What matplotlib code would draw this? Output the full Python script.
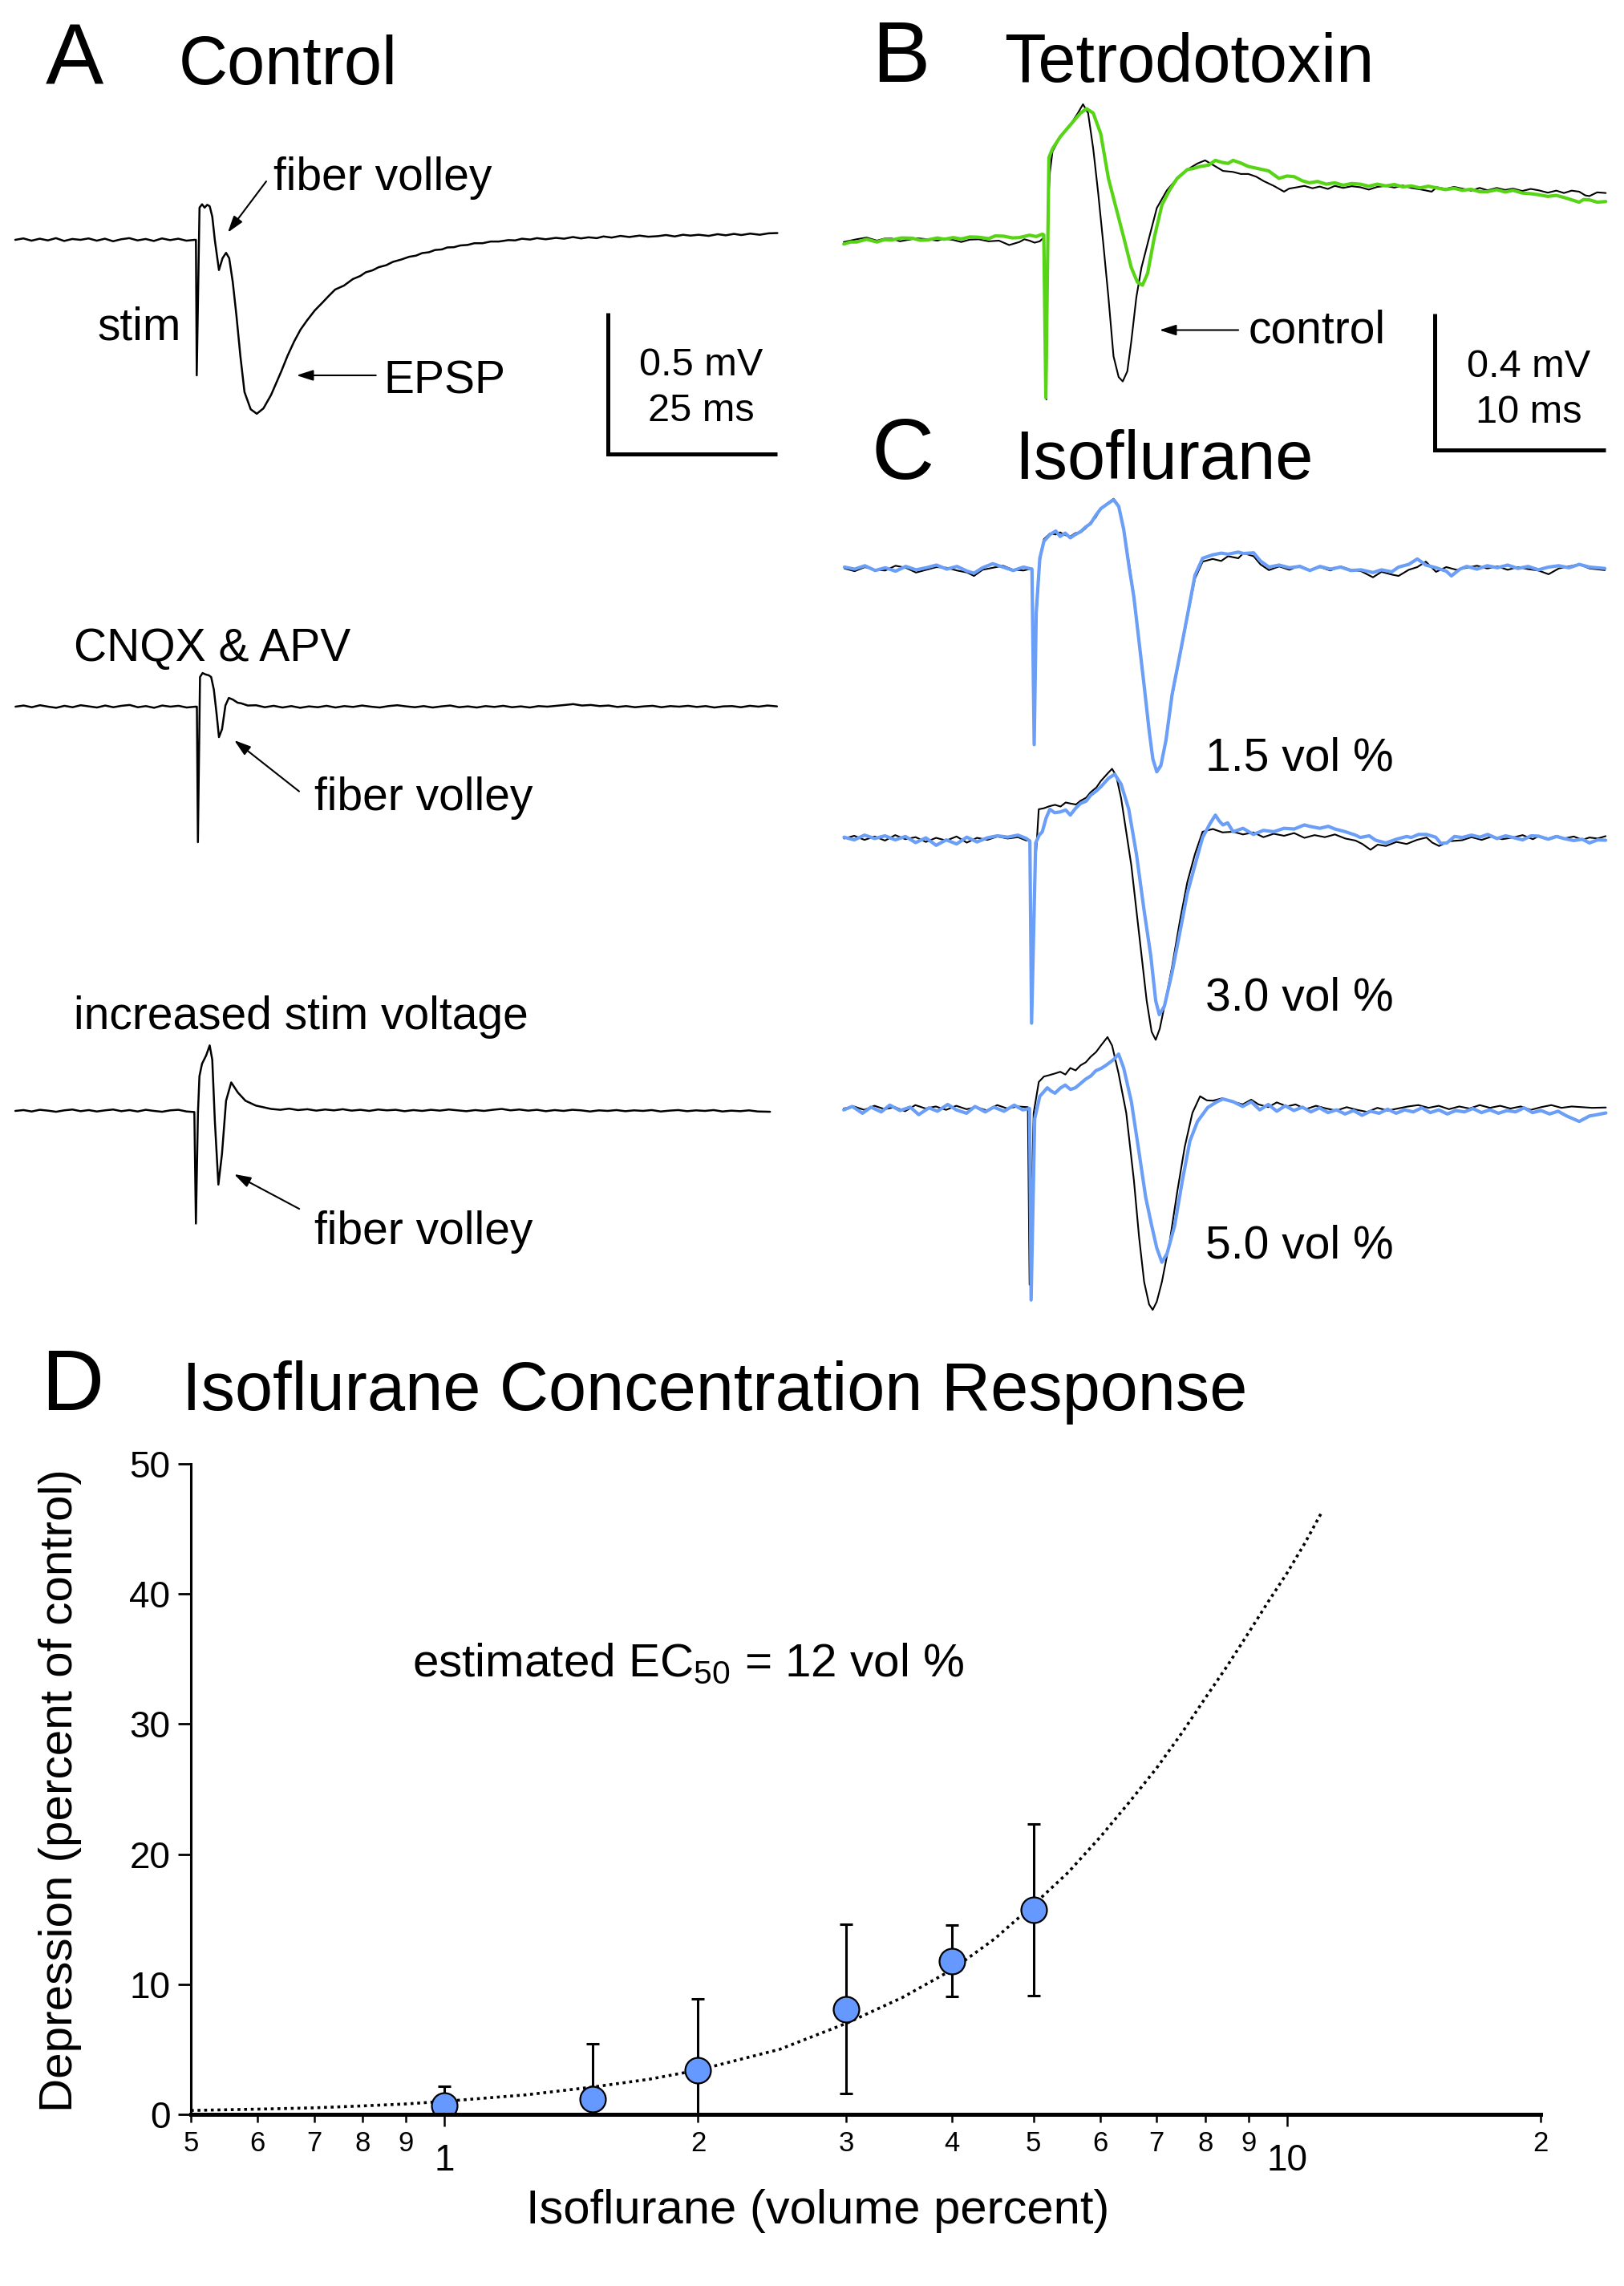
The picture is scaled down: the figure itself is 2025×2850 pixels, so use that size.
import numpy as np
import matplotlib
matplotlib.use('Agg')
import matplotlib.pyplot as plt

plt.rcParams['font.family'] = ['Liberation Sans', 'DejaVu Sans']
plt.rcParams['mathtext.fontset'] = 'custom'
plt.rcParams['mathtext.rm'] = 'Liberation Sans'
plt.rcParams['mathtext.it'] = 'Liberation Sans:italic'
plt.rcParams['mathtext.bf'] = 'Liberation Sans:bold'

W, H = 2025, 2850
GREEN = '#56d415'
BLUE = '#6a9ef7'
DOT_BLUE = '#6699ff'

# ── traces, (time ms from stim, mV) ──
CONTROL_A = [
    (-26.6, 0.000), (-25.4, 0.005), (-24.2, -0.003), (-23.0, 0.004), (-21.8, -0.002), (-20.6, 0.006),
    (-19.4, -0.004), (-18.2, 0.003), (-17.0, 0.000), (-15.8, 0.005), (-14.6, -0.003), (-13.4, 0.004),
    (-12.2, -0.005), (-11.0, 0.002), (-9.8, 0.006), (-8.6, -0.002), (-7.4, 0.003), (-6.2, -0.004),
    (-5.0, 0.005), (-3.8, -0.001), (-2.6, 0.004), (-1.4, -0.003), (-0.2, 0.000), (0.0, 0.000),
    (0.12, -0.480), (0.53, 0.114), (0.90, 0.126), (1.28, 0.114), (1.66, 0.124), (2.03, 0.119),
    (2.41, 0.082), (2.79, -0.002), (3.39, -0.107), (3.92, -0.065), (4.44, -0.046), (4.90, -0.065),
    (5.42, -0.149), (5.95, -0.265), (6.55, -0.413), (7.15, -0.539), (8.06, -0.600), (8.96, -0.616),
    (9.94, -0.597), (11.07, -0.549), (12.58, -0.465), (13.5, -0.410), (14.46, -0.360), (15.4, -0.318),
    (16.34, -0.286), (17.5, -0.250), (18.6, -0.223), (19.5, -0.200), (20.5, -0.176), (21.8, -0.162),
    (23.1, -0.139), (24.2, -0.128), (25.0, -0.115), (26.0, -0.108), (26.9, -0.097), (28.0, -0.090),
    (29.0, -0.078), (30.2, -0.070), (31.4, -0.060), (32.4, -0.056), (33.3, -0.047), (34.3, -0.044),
    (35.2, -0.036), (36.2, -0.034), (37.0, -0.027), (38.0, -0.026), (38.9, -0.020), (40.0, -0.018),
    (41.0, -0.012), (42.2, -0.012), (43.4, -0.006), (44.6, -0.006), (46.0, -0.001), (47.0, -0.002),
    (48.0, 0.004), (49.2, 0.001), (50.2, 0.006), (51.5, 0.002), (53.0, 0.007), (54.2, 0.004),
    (55.5, 0.010), (56.7, 0.005), (57.8, 0.009), (59.0, 0.006), (60.0, 0.012), (61.2, 0.008),
    (62.5, 0.014), (63.8, 0.010), (65.3, 0.015), (66.6, 0.011), (68.0, 0.013), (69.2, 0.017),
    (70.5, 0.012), (71.7, 0.018), (72.8, 0.015), (74.0, 0.018), (75.5, 0.014), (76.8, 0.020),
    (78.0, 0.016), (79.2, 0.021), (80.3, 0.017), (81.6, 0.022), (83.0, 0.018), (84.3, 0.023),
    (85.6, 0.024),
]

CNQX_APV = [
    (-26.7, 0.000), (-25.5, 0.004), (-24.3, -0.002), (-23.1, 0.005), (-21.9, 0.000), (-20.7, -0.004),
    (-19.5, 0.003), (-18.3, -0.002), (-17.1, 0.005), (-15.9, 0.001), (-14.7, -0.003), (-13.5, 0.004),
    (-12.3, -0.002), (-11.1, 0.003), (-9.9, 0.006), (-8.7, -0.002), (-7.5, 0.002), (-6.3, -0.004),
    (-5.1, 0.004), (-3.9, 0.000), (-2.7, 0.003), (-1.5, -0.003), (-0.2, 0.000), (0.0, 0.000),
    (0.15, -0.480), (0.46, 0.105), (0.84, 0.119), (1.29, 0.114), (1.75, 0.111), (2.10, 0.105),
    (2.50, 0.060), (2.90, -0.025), (3.25, -0.108), (3.70, -0.080), (4.20, 0.004), (4.70, 0.031),
    (5.30, 0.025), (6.0, 0.014), (6.5, 0.012), (7.5, 0.004), (8.7, 0.005), (10.0, -0.002),
    (11.3, 0.003), (12.6, -0.003), (13.9, 0.002), (15.2, -0.004), (16.5, 0.001), (17.8, -0.002),
    (19.1, 0.003), (20.4, -0.003), (21.7, 0.002), (23.0, -0.001), (24.3, 0.004), (25.6, 0.000),
    (26.9, -0.003), (28.2, 0.002), (29.5, 0.005), (30.8, 0.001), (32.1, -0.002), (33.4, 0.002),
    (34.7, -0.003), (36.0, 0.001), (37.3, 0.004), (38.6, -0.002), (39.9, 0.001), (41.2, -0.003),
    (42.5, 0.002), (43.8, -0.001), (45.1, 0.003), (46.4, -0.002), (47.7, 0.001), (49.0, -0.003),
    (50.3, 0.002), (51.6, 0.000), (52.9, 0.003), (54.2, 0.006), (55.4, 0.009), (56.7, 0.004),
    (58.0, 0.006), (59.3, 0.002), (60.6, 0.004), (61.9, -0.001), (63.2, 0.002), (64.5, -0.002),
    (65.8, 0.001), (67.1, 0.003), (68.4, -0.002), (69.7, 0.002), (71.0, 0.000), (72.3, 0.003),
    (73.6, -0.001), (74.9, 0.002), (76.2, -0.003), (77.5, 0.001), (78.8, 0.002), (80.1, -0.002),
    (81.4, 0.003), (82.7, 0.000), (84.0, 0.004), (85.4, 0.001),
]

HIGH_STIM = [
    (-26.5, 0.000), (-25.3, 0.003), (-24.1, -0.002), (-22.9, 0.004), (-21.7, 0.001), (-20.5, -0.003),
    (-19.3, 0.002), (-18.1, 0.005), (-16.9, -0.001), (-15.7, 0.003), (-14.5, -0.002), (-13.3, 0.002),
    (-12.1, 0.005), (-10.9, -0.001), (-9.7, 0.003), (-8.5, -0.002), (-7.3, 0.004), (-6.1, 0.000),
    (-4.9, -0.003), (-3.7, 0.002), (-2.5, 0.004), (-1.3, -0.002), (-0.15, -0.004), (0.08, -0.399),
    (0.38, -0.007), (0.60, 0.123), (0.98, 0.167), (1.58, 0.196), (2.11, 0.232), (2.49, 0.181),
    (2.87, -0.036), (3.39, -0.261), (3.92, -0.152), (4.52, 0.036), (5.28, 0.101), (6.26, 0.065),
    (7.38, 0.036), (8.89, 0.019), (11.15, 0.007), (12.5, 0.004), (13.8, 0.008), (15.1, 0.003),
    (16.5, 0.006), (17.8, 0.001), (19.1, 0.005), (20.4, 0.002), (21.7, 0.006), (23.0, 0.001),
    (24.3, 0.004), (25.6, 0.000), (26.9, 0.005), (28.2, 0.002), (29.5, 0.004), (30.8, -0.001),
    (32.1, 0.003), (33.4, 0.000), (34.7, 0.004), (36.0, 0.001), (37.3, 0.005), (38.6, 0.002),
    (39.9, -0.001), (41.2, 0.003), (42.5, 0.000), (43.8, 0.004), (45.1, 0.007), (46.4, 0.002),
    (47.7, 0.005), (49.0, 0.001), (50.3, 0.004), (51.6, -0.001), (52.9, 0.003), (54.2, 0.000),
    (55.5, 0.004), (56.8, 0.002), (58.1, -0.002), (59.4, 0.002), (60.7, 0.000), (62.0, 0.003),
    (63.3, -0.001), (64.6, 0.002), (65.9, 0.000), (67.2, 0.003), (68.5, -0.002), (69.8, 0.001),
    (71.1, 0.003), (72.4, -0.001), (73.7, 0.002), (75.0, 0.000), (76.3, 0.003), (77.6, -0.002),
    (78.9, 0.001), (80.2, -0.001), (81.5, 0.002), (82.8, -0.002), (84.6, -0.003),
]

TTX_CONTROL = [
    (-11.79, -0.004), (-11.04, 0.004), (-10.45, 0.009), (-9.85, 0.000), (-9.4, 0.006), (-8.96, 0.006),
    (-8.5, -0.002), (-8.06, 0.002), (-7.5, 0.007), (-6.87, 0.004), (-6.3, 0.000), (-5.9, 0.006),
    (-5.37, 0.002), (-4.9, -0.004), (-4.4, 0.003), (-3.88, 0.004), (-3.3, -0.002), (-2.69, 0.000),
    (-2.09, -0.013), (-1.49, -0.004), (-1.2, 0.004), (-0.9, 0.000), (-0.6, -0.006), (-0.3, -0.002),
    (-0.06, 0.009), (0.09, -0.467), (0.18, 0.096), (0.30, 0.201), (0.45, 0.262), (0.90, 0.305),
    (1.49, 0.340), (1.94, 0.375), (2.24, 0.401), (2.54, 0.375), (2.84, 0.270), (3.13, 0.140),
    (3.43, -0.009), (3.73, -0.166), (4.03, -0.340), (4.33, -0.401), (4.57, -0.414), (4.84, -0.384),
    (5.07, -0.297), (5.37, -0.166), (5.67, -0.079), (6.12, 0.009), (6.57, 0.096), (7.16, 0.148),
    (7.76, 0.183), (8.36, 0.209), (8.96, 0.227), (9.40, 0.236), (9.85, 0.223), (10.45, 0.205),
    (11.04, 0.202), (11.5, 0.196), (11.94, 0.196), (12.4, 0.188), (12.84, 0.175), (13.43, 0.161),
    (14.03, 0.144), (14.33, 0.153), (14.8, 0.157), (15.22, 0.161), (15.7, 0.154), (16.12, 0.159),
    (16.6, 0.152), (17.01, 0.161), (17.5, 0.155), (18.0, 0.160), (18.51, 0.157), (19.0, 0.150),
    (19.5, 0.158), (20.0, 0.161), (20.5, 0.156), (21.0, 0.162), (21.49, 0.155), (22.1, 0.150),
    (22.69, 0.144), (22.99, 0.157), (23.5, 0.152), (24.0, 0.158), (24.48, 0.153), (25.0, 0.147),
    (25.5, 0.155), (25.97, 0.148), (26.5, 0.155), (27.0, 0.149), (27.46, 0.153), (28.0, 0.146),
    (28.5, 0.152), (28.96, 0.148), (29.5, 0.141), (30.0, 0.147), (30.45, 0.140), (30.9, 0.147),
    (31.34, 0.144), (31.7, 0.133), (31.94, 0.131), (32.4, 0.142), (32.9, 0.140),
]

TTX = [
    (-11.79, -0.010), (-11.4, -0.004), (-11.04, -0.004), (-10.45, 0.004), (-9.85, -0.004), (-9.4, 0.003),
    (-8.96, 0.002), (-8.4, 0.008), (-7.76, 0.007), (-7.3, 0.001), (-6.87, 0.002), (-6.3, 0.008),
    (-5.9, 0.004), (-5.37, 0.009), (-4.9, 0.005), (-4.4, 0.011), (-3.88, 0.010), (-3.3, 0.006),
    (-2.9, 0.014), (-2.39, 0.013), (-1.9, 0.008), (-1.49, 0.009), (-0.9, 0.016), (-0.5, 0.012),
    (-0.15, 0.019), (-0.06, 0.017), (0.06, -0.462), (0.24, 0.244), (0.45, 0.270), (0.90, 0.305),
    (1.49, 0.340), (2.09, 0.375), (2.45, 0.388), (2.84, 0.375), (3.28, 0.314), (3.73, 0.183),
    (4.18, 0.096), (4.63, 0.009), (5.07, -0.079), (5.43, -0.122), (5.73, -0.131), (6.03, -0.096),
    (6.42, 0.009), (6.87, 0.105), (7.31, 0.148), (7.76, 0.183), (8.36, 0.209), (8.7, 0.212),
    (9.10, 0.218), (9.6, 0.222), (10.0, 0.236), (10.4, 0.230), (10.75, 0.227), (11.04, 0.236),
    (11.5, 0.228), (11.94, 0.218), (12.5, 0.212), (13.13, 0.205), (13.73, 0.183), (14.2, 0.190),
    (14.63, 0.188), (15.1, 0.176), (15.52, 0.170), (16.0, 0.174), (16.5, 0.166), (17.01, 0.170),
    (17.5, 0.163), (18.0, 0.168), (18.51, 0.166), (19.0, 0.160), (19.5, 0.166), (20.0, 0.161),
    (20.5, 0.165), (21.0, 0.158), (21.49, 0.161), (22.0, 0.155), (22.5, 0.160), (22.99, 0.155),
    (23.5, 0.150), (24.0, 0.154), (24.48, 0.148), (25.0, 0.151), (25.5, 0.144), (25.97, 0.144),
    (26.5, 0.150), (27.0, 0.143), (27.46, 0.148), (28.0, 0.140), (28.5, 0.138), (28.96, 0.135),
    (29.5, 0.130), (30.0, 0.133), (30.45, 0.127), (30.9, 0.120), (31.34, 0.113), (31.6, 0.121),
    (31.94, 0.120), (32.4, 0.113), (32.9, 0.115),
]

ISO15_CONTROL = [
    (-11.1, 0.000), (-10.5, -0.008), (-9.9, 0.004), (-9.3, -0.004), (-8.7, -0.006), (-8.1, 0.008),
    (-7.5, 0.002), (-6.9, -0.012), (-6.3, -0.004), (-5.7, 0.004), (-5.1, 0.002), (-4.5, -0.006),
    (-3.9, -0.012), (-3.5, -0.022), (-3.0, -0.004), (-2.4, 0.002), (-1.8, 0.008), (-1.2, -0.004),
    (-0.6, -0.006), (-0.1, 0.000), (0.03, -0.518), (0.15, -0.146), (0.36, 0.020), (0.6, 0.086),
    (0.96, 0.103), (1.3, 0.100), (1.55, 0.106), (1.85, 0.098), (2.15, 0.094), (2.45, 0.104),
    (2.75, 0.106), (3.05, 0.118), (3.34, 0.136), (3.64, 0.150), (3.94, 0.177), (4.39, 0.194),
    (4.69, 0.205), (4.99, 0.185), (5.28, 0.119), (5.58, 0.020), (5.88, -0.079), (6.18, -0.212),
    (6.48, -0.344), (6.78, -0.477), (6.99, -0.559), (7.22, -0.596), (7.46, -0.576), (7.76, -0.510),
    (8.12, -0.377), (8.57, -0.261), (9.01, -0.146), (9.46, -0.030), (9.91, 0.020), (10.5, 0.028),
    (11.0, 0.022), (11.4, 0.036), (12.0, 0.030), (12.3, 0.045), (12.9, 0.036), (13.3, 0.012),
    (13.8, -0.005), (14.4, 0.006), (15.0, -0.004), (15.6, 0.008), (16.2, -0.005), (16.8, 0.004),
    (17.4, -0.006), (18.0, 0.006), (18.6, -0.004), (19.2, -0.008), (19.9, -0.026), (20.4, -0.010),
    (21.0, -0.018), (21.4, -0.022), (22.0, -0.004), (22.5, 0.004), (23.0, 0.020), (23.6, -0.010),
    (24.2, 0.004), (24.8, -0.004), (25.4, 0.002), (26.0, 0.008), (26.6, 0.000), (27.2, 0.006),
    (27.8, -0.004), (28.4, 0.004), (29.0, -0.002), (29.6, -0.006), (30.2, -0.017), (30.8, 0.000),
    (31.4, 0.006), (32.0, 0.012), (32.6, 0.000), (33.5, -0.005),
]

ISO15 = [
    (-11.1, 0.004), (-10.5, -0.002), (-9.9, 0.008), (-9.3, -0.006), (-8.7, 0.002), (-8.1, -0.008),
    (-7.5, 0.006), (-6.9, -0.004), (-6.3, 0.002), (-5.7, 0.010), (-5.1, -0.002), (-4.5, 0.006),
    (-3.9, -0.008), (-3.5, -0.014), (-3.0, 0.002), (-2.4, 0.014), (-1.8, 0.004), (-1.2, -0.006),
    (-0.6, 0.004), (-0.1, -0.002), (0.03, -0.518), (0.15, -0.130), (0.36, 0.030), (0.6, 0.080),
    (0.96, 0.100), (1.3, 0.110), (1.55, 0.094), (1.85, 0.104), (2.15, 0.090), (2.45, 0.100),
    (2.75, 0.108), (3.05, 0.122), (3.34, 0.132), (3.64, 0.156), (3.94, 0.176), (4.39, 0.192),
    (4.69, 0.202), (4.99, 0.182), (5.28, 0.115), (5.58, 0.010), (5.88, -0.085), (6.18, -0.215),
    (6.48, -0.345), (6.78, -0.480), (6.99, -0.560), (7.22, -0.598), (7.46, -0.580), (7.76, -0.505),
    (8.12, -0.370), (8.57, -0.255), (9.01, -0.140), (9.46, -0.020), (9.91, 0.030), (10.5, 0.040),
    (11.0, 0.045), (11.4, 0.042), (12.0, 0.048), (12.3, 0.044), (12.9, 0.046), (13.3, 0.022),
    (13.8, 0.004), (14.4, 0.010), (15.0, 0.002), (15.6, 0.006), (16.2, -0.006), (16.8, 0.006),
    (17.4, -0.002), (18.0, 0.004), (18.6, -0.006), (19.2, -0.004), (19.9, -0.012), (20.4, -0.004),
    (21.0, -0.010), (21.4, 0.004), (22.0, 0.012), (22.5, 0.028), (23.0, 0.010), (23.6, 0.002),
    (24.2, -0.008), (24.5, -0.022), (25.0, -0.002), (25.4, 0.006), (26.0, -0.002), (26.6, 0.008),
    (27.2, 0.002), (27.8, 0.010), (28.4, 0.000), (29.0, 0.006), (29.6, -0.004), (30.2, 0.004),
    (30.8, 0.008), (31.4, 0.002), (32.0, 0.012), (32.6, 0.004), (33.5, 0.000),
]

ISO30_CONTROL = [
    (-11.0, 0.000), (-10.4, 0.008), (-9.8, -0.004), (-9.2, 0.006), (-8.6, -0.006), (-8.0, 0.010),
    (-7.4, -0.002), (-6.8, 0.004), (-6.2, -0.010), (-5.6, 0.002), (-5.0, -0.006), (-4.4, 0.006),
    (-3.8, -0.012), (-3.2, 0.002), (-2.6, -0.004), (-2.0, 0.006), (-1.4, 0.000), (-0.8, 0.004),
    (-0.3, -0.006), (-0.1, -0.005), (0.0, -0.543), (0.18, -0.113), (0.42, 0.086), (0.72, 0.089),
    (1.05, 0.095), (1.37, 0.099), (1.7, 0.094), (2.0, 0.106), (2.27, 0.103), (2.6, 0.100),
    (2.87, 0.111), (3.2, 0.120), (3.46, 0.136), (3.8, 0.150), (4.06, 0.169), (4.51, 0.194),
    (4.72, 0.205), (4.96, 0.185), (5.25, 0.119), (5.55, 0.020), (5.85, -0.079), (6.15, -0.212),
    (6.45, -0.344), (6.75, -0.477), (7.04, -0.568), (7.28, -0.592), (7.52, -0.559), (7.79, -0.493),
    (8.24, -0.377), (8.69, -0.245), (9.13, -0.129), (9.58, -0.046), (10.03, 0.020), (10.63, 0.028),
    (11.2, 0.018), (11.82, 0.020), (12.4, 0.012), (13.0, 0.018), (13.6, 0.004), (14.2, 0.014),
    (14.81, 0.008), (15.4, 0.016), (16.0, 0.002), (16.6, 0.010), (17.2, 0.004), (17.79, 0.012),
    (18.4, 0.000), (19.0, -0.006), (19.4, -0.016), (19.88, -0.033), (20.3, -0.018), (20.78, -0.022),
    (21.4, -0.010), (22.0, -0.016), (22.6, -0.004), (23.16, 0.003), (23.5, -0.012), (23.9, -0.022),
    (24.5, -0.008), (25.25, -0.005), (25.8, 0.004), (26.4, -0.004), (27.0, 0.006), (27.6, -0.002),
    (28.24, 0.003), (28.8, 0.010), (29.4, -0.002), (29.73, 0.007), (30.3, 0.000), (30.8, 0.008),
    (31.22, 0.000), (31.8, 0.006), (32.3, -0.004), (32.72, 0.003), (33.2, 0.000), (33.67, 0.007),
]

ISO30 = [
    (-11.0, 0.004), (-10.4, -0.004), (-9.8, 0.010), (-9.2, 0.000), (-8.6, 0.008), (-8.0, -0.004),
    (-7.4, 0.006), (-6.8, -0.012), (-6.2, 0.002), (-5.6, -0.020), (-5.0, -0.004), (-4.4, -0.016),
    (-3.8, 0.004), (-3.2, -0.010), (-2.6, 0.002), (-2.0, 0.008), (-1.4, 0.004), (-0.8, 0.010),
    (-0.3, 0.000), (-0.1, -0.008), (0.0, -0.543), (0.24, -0.013), (0.45, 0.010), (0.63, 0.020),
    (0.85, 0.060), (1.07, 0.086), (1.35, 0.076), (1.67, 0.078), (2.0, 0.084), (2.27, 0.069),
    (2.6, 0.090), (2.87, 0.103), (3.2, 0.110), (3.46, 0.127), (3.8, 0.140), (4.06, 0.152),
    (4.51, 0.177), (4.87, 0.189), (5.25, 0.160), (5.7, 0.086), (6.15, -0.046), (6.6, -0.212),
    (6.99, -0.344), (7.28, -0.477), (7.49, -0.518), (7.79, -0.493), (8.24, -0.394), (8.69, -0.278),
    (9.13, -0.162), (9.58, -0.079), (10.03, 0.003), (10.48, 0.045), (10.78, 0.069), (11.0, 0.052),
    (11.22, 0.040), (11.5, 0.046), (11.82, 0.020), (12.4, 0.030), (13.01, 0.012), (13.6, 0.024),
    (14.21, 0.020), (14.8, 0.030), (15.4, 0.028), (16.0, 0.040), (16.3, 0.036), (16.9, 0.030),
    (17.4, 0.036), (17.79, 0.028), (18.4, 0.020), (19.0, 0.010), (19.28, 0.003), (19.8, 0.008),
    (20.18, -0.005), (20.78, -0.013), (21.4, -0.002), (22.0, 0.006), (22.27, 0.003), (22.7, 0.012),
    (23.16, 0.012), (23.7, 0.004), (24.0, -0.014), (24.36, -0.013), (24.8, 0.006), (25.25, 0.003),
    (25.8, 0.010), (26.3, 0.004), (26.75, 0.012), (27.3, 0.000), (27.8, 0.008), (28.24, 0.003),
    (28.8, -0.004), (29.3, 0.008), (29.73, 0.007), (30.3, -0.002), (30.8, 0.006), (31.22, 0.000),
    (31.8, -0.006), (32.3, -0.002), (32.72, -0.013), (33.2, -0.004), (33.67, -0.005),
]

ISO50_CONTROL = [
    (-10.9, 0.000), (-10.3, 0.006), (-9.7, -0.004), (-9.1, 0.008), (-8.5, -0.002), (-7.9, 0.004),
    (-7.3, -0.008), (-6.7, 0.010), (-6.1, 0.000), (-5.5, 0.006), (-4.9, -0.004), (-4.3, 0.008),
    (-3.7, -0.002), (-3.1, 0.004), (-2.5, -0.006), (-1.9, 0.010), (-1.3, 0.000), (-0.7, 0.006),
    (-0.1, 0.004), (0.0, -0.518), (0.24, -0.013), (0.54, 0.078), (0.84, 0.094), (1.15, 0.098),
    (1.49, 0.103), (1.8, 0.108), (2.1, 0.100), (2.39, 0.119), (2.7, 0.112), (2.99, 0.127),
    (3.3, 0.136), (3.58, 0.152), (3.9, 0.166), (4.18, 0.185), (4.57, 0.210), (4.84, 0.185),
    (5.22, 0.103), (5.67, -0.013), (6.12, -0.212), (6.42, -0.377), (6.72, -0.510), (7.01, -0.576),
    (7.22, -0.592), (7.46, -0.568), (7.76, -0.510), (8.21, -0.394), (8.66, -0.245), (9.1, -0.113),
    (9.55, -0.013), (10.0, 0.036), (10.4, 0.024), (10.75, 0.023), (11.3, 0.030), (11.94, 0.020),
    (12.5, 0.012), (13.0, 0.026), (13.43, 0.012), (14.0, 0.004), (14.5, 0.018), (15.1, 0.006),
    (15.6, 0.012), (16.2, -0.002), (16.8, 0.008), (17.4, 0.000), (18.0, -0.006), (18.6, 0.004),
    (19.2, -0.004), (19.8, -0.010), (20.4, 0.002), (21.0, -0.006), (21.6, 0.000), (22.2, 0.006),
    (22.8, 0.010), (23.4, 0.002), (24.0, 0.008), (24.6, -0.002), (25.2, 0.006), (25.8, 0.000),
    (26.4, 0.010), (27.0, 0.002), (27.6, 0.008), (28.2, 0.000), (28.8, 0.006), (29.4, -0.004),
    (30.0, 0.004), (30.6, 0.010), (31.2, 0.002), (31.8, 0.006), (32.4, 0.004), (33.0, 0.002),
    (33.8, 0.003),
]

ISO50 = [
    (-10.9, -0.004), (-10.4, 0.006), (-9.8, -0.014), (-9.3, 0.004), (-8.7, -0.010), (-8.2, 0.010),
    (-7.6, -0.006), (-7.0, 0.004), (-6.5, -0.018), (-5.9, 0.002), (-5.4, -0.008), (-4.8, 0.012),
    (-4.3, -0.004), (-3.7, -0.014), (-3.2, 0.006), (-2.6, -0.010), (-2.1, 0.004), (-1.5, -0.008),
    (-0.9, 0.010), (-0.4, -0.004), (0.0, 0.000), (0.09, -0.563), (0.3, -0.030), (0.6, 0.036),
    (1.04, 0.061), (1.25, 0.052), (1.49, 0.045), (1.8, 0.060), (2.09, 0.069), (2.4, 0.056),
    (2.69, 0.061), (3.0, 0.074), (3.28, 0.086), (3.6, 0.096), (3.88, 0.111), (4.2, 0.118),
    (4.48, 0.127), (4.93, 0.144), (5.22, 0.160), (5.52, 0.119), (5.97, 0.020), (6.42, -0.129),
    (6.81, -0.261), (7.16, -0.344), (7.46, -0.410), (7.76, -0.452), (8.06, -0.427), (8.51, -0.344),
    (8.96, -0.212), (9.4, -0.096), (9.85, -0.038), (10.45, 0.003), (11.0, 0.020), (11.34, 0.028),
    (11.94, 0.020), (12.5, 0.006), (13.0, 0.020), (13.5, -0.004), (14.0, 0.012), (14.5, -0.008),
    (15.0, 0.008), (15.5, -0.006), (16.0, 0.004), (16.5, -0.010), (17.0, 0.002), (17.5, -0.012),
    (18.0, -0.004), (18.5, -0.016), (19.0, -0.006), (19.5, -0.020), (20.0, -0.008), (20.5, -0.014),
    (21.0, -0.002), (21.5, -0.014), (22.0, -0.004), (22.5, -0.010), (23.0, 0.002), (23.5, -0.012),
    (24.0, -0.004), (24.5, -0.016), (25.0, -0.006), (25.5, -0.010), (26.0, 0.000), (26.5, -0.012),
    (27.0, -0.004), (27.5, -0.014), (28.0, -0.006), (28.5, -0.010), (29.0, 0.002), (29.5, -0.012),
    (30.0, -0.006), (30.5, -0.016), (31.0, -0.008), (31.5, -0.022), (32.24, -0.038), (32.84, -0.022),
    (33.3, -0.018), (33.8, -0.013),
]

# scale bars (ms, mV)
SCALE_A = (25, 0.5)
SCALE_B = (10, 0.4)

# ── panel D: concentration response ──
DOSE = [1.0, 1.5, 2.0, 3.0, 4.0, 5.0]
DEPRESSION = [0.7, 1.2, 3.4, 8.1, 11.8, 15.7]
DEPRESSION_ERR = [1.45, 4.2, 5.5, 6.5, 2.75, 6.6]

FIT_X = [0.5, 0.6, 0.7, 0.8, 0.9, 1.0, 1.25, 1.5, 1.75, 2.0, 2.5, 3.0, 3.5, 4.0, 4.5, 5.0,
         5.5, 6.0, 6.5, 7.0, 7.5, 8.0, 8.5, 9.0, 9.5, 10.0, 10.5, 11.0]
FIT_Y = [0.3, 0.4, 0.5, 0.65, 0.8, 1.0, 1.5, 2.1, 2.7, 3.4, 5.0, 7.0, 9.0, 11.1, 13.5, 16.1,
         18.6, 21.3, 24.0, 26.6, 29.3, 32.0, 34.5, 37.0, 39.4, 41.6, 43.9, 46.3]

MAJOR_X = [1, 10]
MAJOR_X_LABELS = ['1', '10']
MINOR_X = [0.5, 0.6, 0.7, 0.8, 0.9, 2, 3, 4, 5, 6, 7, 8, 9, 20]
MINOR_X_LABELS = ['5', '6', '7', '8', '9', '2', '3', '4', '5', '6', '7', '8', '9', '2']
Y_TICKS = [0, 10, 20, 30, 40, 50]


def trace_axes(fig, x0, y0, px_ms, px_mv):
    """full-figure transparent axes, stim at pixel (x0, y0 from top)"""
    ax = fig.add_axes([0, 0, 1, 1])
    ax.set_xlim(-x0 / px_ms, (W - x0) / px_ms)
    ax.set_ylim(-(H - y0) / px_mv, y0 / px_mv)
    ax.axis('off')
    return ax


def draw(ax, pts, color='k', lw=1.8):
    t, v = np.array(pts).T
    ax.plot(t, v, color=color, lw=lw, solid_joinstyle='round', solid_capstyle='round')


def arrow(ax, tail, head):
    ax.annotate('', xy=head, xytext=tail,
                arrowprops=dict(arrowstyle='-|>,head_length=0.5,head_width=0.16', lw=1.5,
                                color='k', mutation_scale=25, shrinkA=0, shrinkB=0))


def scale_bar(ax, corner, scale, lines):
    t0, v0 = corner
    dt, dv = scale
    ax.plot([t0, t0, t0 + dt], [v0 + dv, v0, v0], color='k', lw=3.6,
            solid_joinstyle='miter', solid_capstyle='butt')
    tc = t0 + dt * 0.55
    for (txt, v) in lines:
        ax.text(tc, v, txt, fontsize=35, ha='center', va='baseline')


fig = plt.figure(figsize=(W / 100, H / 100), dpi=100)

# ── titles (pixel overlay) ──
pix = fig.add_axes([0, 0, 1, 1])
pix.set_xlim(0, W)
pix.set_ylim(H, 0)
pix.axis('off')
for x, y, s, fs in [(57, 105, 'A', 78), (223, 105, 'Control', 61),
                    (1087, 102, 'B', 78), (1252, 102, 'Tetrodotoxin', 61),
                    (1087, 597, 'C', 78), (1265, 597, 'Isoflurane', 61),
                    (51, 1758, 'D', 78), (227, 1758, 'Isoflurane Concentration Response', 61)]:
    pix.text(x, y, s, fontsize=fs, ha='left', va='baseline')

# ── A ──
a1 = trace_axes(fig, 244.3, 299, 8.47, 352)
draw(a1, CONTROL_A)
a1.text(11.4, 0.177, 'fiber volley', fontsize=41, va='baseline')
arrow(a1, (10.35, 0.207), (4.69, 0.026))
a1.text(-2.2, -0.354, 'stim', fontsize=41, ha='right', va='baseline')
a1.text(27.6, -0.543, 'EPSP', fontsize=41, va='baseline')
arrow(a1, (26.5, -0.48), (14.8, -0.48))
scale_bar(a1, (60.6, -0.759), SCALE_A, [('0.5 mV', -0.48), ('25 ms', -0.643)])

a2 = trace_axes(fig, 245.5, 881, 8.47, 352)
draw(a2, CNQX_APV)
a2.text(-18.1, 0.162, 'CNQX & APV', fontsize=41, va='baseline')
arrow(a2, (15.05, -0.30), (5.5, -0.119))
a2.text(17.3, -0.366, 'fiber volley', fontsize=41, va='baseline')

a3 = trace_axes(fig, 243.6, 1385, 8.47, 352)
draw(a3, HIGH_STIM)
a3.text(-17.9, 0.29, 'increased stim voltage', fontsize=41, va='baseline')
arrow(a3, (15.3, -0.347), (5.7, -0.224))
a3.text(17.5, -0.472, 'fiber volley', fontsize=41, va='baseline')

# ── B ──
b = trace_axes(fig, 1302.8, 300, 21.26, 424)
draw(b, TTX_CONTROL, lw=1.5)
draw(b, TTX, color=GREEN, lw=3.0)
b.text(11.93, -0.30, 'control', fontsize=41, va='baseline')
arrow(b, (11.35, -0.263), (6.72, -0.263))
scale_bar(b, (22.89, -0.615), SCALE_B, [('0.4 mV', -0.40), ('10 ms', -0.535)])

# ── C ──
for (x0, y0, ctrl, iso, label, ly) in [
        (1288.9, 708.7, ISO15_CONTROL, ISO15, '1.5 vol %', 960),
        (1286.3, 1045.4, ISO30_CONTROL, ISO30, '3.0 vol %', 1259),
        (1283.8, 1382.0, ISO50_CONTROL, ISO50, '5.0 vol %', 1568)]:
    c = trace_axes(fig, x0, y0, 21.26, 424)
    draw(c, ctrl, lw=1.5)
    draw(c, iso, color=BLUE, lw=3.0)
    pix.text(1502.7, ly, label, fontsize=41, ha='left', va='baseline')

# ── D ──
ax = fig.add_axes([238 / W, (H - 2636) / H, (1921 - 238) / W, (2636 - 1825) / H])
ax.set_facecolor('none')
ax.set_xscale('log')
ax.set_xlim(0.5, 20)
ax.set_ylim(0, 50)
ax.plot(FIT_X, FIT_Y, color='k', lw=2.6, linestyle=(0, (1, 1.3)), zorder=2)
ax.errorbar(DOSE, DEPRESSION, yerr=DEPRESSION_ERR, fmt='none', ecolor='k',
            elinewidth=2.2, capsize=6, capthick=2.2, zorder=3)
ax.plot(DOSE, DEPRESSION, 'o', ms=23, mfc=DOT_BLUE, mec='k', mew=1.6, zorder=4)

for side in ['top', 'right']:
    ax.spines[side].set_visible(False)
ax.spines['bottom'].set_linewidth(3.6)
ax.spines['left'].set_linewidth(2.2)
ax.spines['bottom'].set_zorder(5)

ax.set_yticks(Y_TICKS)
ax.set_yticklabels([str(v) for v in Y_TICKS])
ax.tick_params(axis='y', length=11.5, width=2, pad=7, labelsize=33)
ax.set_xticks(MAJOR_X, labels=MAJOR_X_LABELS)
ax.set_xticks(MINOR_X, labels=MINOR_X_LABELS, minor=True)
ax.tick_params(axis='x', which='major', length=10.8, width=1.8, pad=15, labelsize=33)
ax.tick_params(axis='x', which='minor', length=7.2, width=1.8, pad=7, labelsize=25)

pix.text(75, 2232, 'Depression (percent of control)', fontsize=42, rotation=90,
         ha='center', va='center')
pix.text(1020, 2756, 'Isoflurane (volume percent)', fontsize=43, ha='center', va='center')
pix.text(514, 2090, r'estimated EC$_{50}$ = 12 vol %', fontsize=42, ha='left', va='baseline')

fig.savefig('out.png', dpi=100)
